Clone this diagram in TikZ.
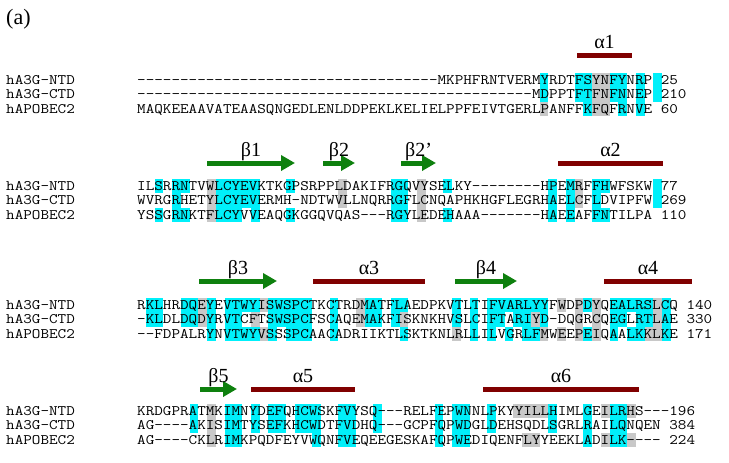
\documentclass[tikz,border=0pt]{standalone}
\usepackage{fontspec}
\setmainfont{Liberation Serif}
\usepackage{graphicx}
\usepackage{tikz}
\usetikzlibrary{arrows.meta}
\usepackage{xcolor}
\definecolor{hlcyan}{HTML}{00F0FA}
\definecolor{hlgray}{HTML}{C8C8C8}
\definecolor{betagreen}{HTML}{0E800E}
\definecolor{alphared}{HTML}{800000}

\newcommand{\seqx}{137}  % inicio de la secuencia
\newcommand{\colw}{8.75} % ancho de columna
\newcommand{\rowh}{14.5} % alto de fila
% celdas coloreadas: #1 y de la fila, #2 color, #3 columnas
\newcommand{\marca}[3]{\foreach \c in {#3}{\fill[#2] ({\seqx+(\c-1)*\colw},{#1-\rowh/2}) rectangle ++(\colw,\rowh);}}
% fila: #1 nombre, #2 y, #3 etiqueta, #4 secuencia
\newcommand{\fila}[4]{\node[seqtxt] (#1l) at (6,{#2+4.4}) {\scalebox{1.1494}[1]{#3}};
	\node[seqtxt] (#1s) at (\seqx,{#2+4.4}) {\scalebox{1.1494}[1]{#4}};}

\begin{document}
\begin{tikzpicture}[x=1pt,y=-1pt,
	seqtxt/.style={anchor=base west,inner sep=0pt,font=\ttfamily\fontsize{14.5}{15}\selectfont},
	sslab/.style={anchor=base,inner sep=0pt,font=\fontsize{20}{22}\selectfont},
	helice/.style={alphared,line width=5pt},
	hebra/.style={betagreen,line width=5pt,-{Triangle[width=15pt,length=14pt]}}]
	\useasboundingbox (0,0) rectangle (729,463);
	\node[anchor=base west,inner sep=0pt,font=\fontsize{22}{24}\selectfont] (panel) at (6,24) {(a)};
	% bloque 1
	\marca{80}{hlcyan}{47,51,52,55,56,58,60}
	\marca{80}{hlgray}{53,54}
	\marca{94.5}{hlcyan}{47,51,52,55,56,58,60}
	\marca{94.5}{hlgray}{53,54}
	\marca{109}{hlcyan}{52,56,58}
	\marca{109}{hlgray}{47,53,54}
	\fila{n1}{80}{hA3G-NTD}{-----------------------------------MKPHFRNTVERMYRDTFSYNFYNRP 25}
	\fila{c1}{94.5}{hA3G-CTD}{----------------------------------------------MDPPTFTFNFNNEP 210}
	\fila{p1}{109}{hAPOBEC2}{MAQKEEAAVATEAASQNGEDLENLDDPEKLKELIELPPFEIVTGERLPANFFKFQFRNVE 60}
	% bloque 2
	\marca{186}{hlcyan}{3,5,6,10,11,12,13,14,18,30,31,36,48,50,53,54,60}
	\marca{186}{hlgray}{9,24,33,51}
	\marca{200.5}{hlcyan}{5,10,11,12,13,14,30,31,48,50,53,60}
	\marca{200.5}{hlgray}{9,24,33,51}
	\marca{215}{hlcyan}{3,5,6,10,11,12,14,18,30,31,36,48,50,53,54}
	\marca{215}{hlgray}{9,33}
	\fila{n2}{186}{hA3G-NTD}{ILSRRNTVWLCYEVKTKGPSRPPLDAKIFRGQVYSELKY--------HPEMRFFHWFSKW 77}
	\fila{c2}{200.5}{hA3G-CTD}{WVRGRHETYLCYEVERMH-NDTWVLLNQRRGFLCNQAPHKHGFLEGRHAELCFLDVIPFW 269}
	\fila{p2}{215}{hAPOBEC2}{YSSGRNKTFLCYVVEAQGKGGQVQAS---RGYLEDEHAAA-------HAEEAFFNTILPA 110}
	% bloque 3
	\marca{305}{hlcyan}{2,3,6,7,9,11,12,13,14,16,17,18,19,20,23,27,28,30,31,37,39,41,42,43,44,45,46,47,52,55,56,57,58,59,61}
	\marca{305}{hlgray}{8,15,26,49,51,53,60}
	\marca{319.5}{hlcyan}{2,3,6,7,9,11,12,16,17,18,19,20,23,27,28,30,37,39,41,42,44,45,47,55,56,58,59,61}
	\marca{319.5}{hlgray}{8,14,26,31,46,51,53,60}
	\marca{334}{hlcyan}{9,11,12,13,14,16,18,19,20,23,31,39,41,43,45,46,52,55,57,58,61}
	\marca{334}{hlgray}{15,37,47,49,51,53,59,60}
	\fila{n3}{305}{hA3G-NTD}{RKLHRDQEYEVTWYISWSPCTKCTRDMATFLAEDPKVTLTIFVARLYYFWDPDYQEALRSLCQ 140}
	\fila{c3}{319.5}{hA3G-CTD}{-KLDLDQDYRVTCFTSWSPCFSCAQEMAKFISKNKHVSLCIFTARIYD-DQGRCQEGLRTLAE 330}
	\fila{p3}{334}{hAPOBEC2}{--FDPALRYNVTWYVSSSPCAACADRIIKTLSKTKNLRLLILVGRLFMWEEPEIQAALKKLKE 171}
	% bloque 4
	\marca{411}{hlcyan}{7,11,12,14,16,17,19,20,21,24,25,28,35,37,38,41,48,52,55,56}
	\marca{411}{hlgray}{9,44,45,46,47,54,57}
	\marca{425.5}{hlcyan}{7,11,12,14,16,17,19,20,21,24,25,28,35,37,38,41,48,52,55,56}
	\marca{425.5}{hlgray}{9}
	\marca{440}{hlcyan}{11,12,21,24,25,35,37,38,52,55,56}
	\marca{440}{hlgray}{9,45,46,54,57}
	\fila{n4}{411}{hA3G-NTD}{KRDGPRATMKIMNYDEFQHCWSKFVYSQ---RELFEPWNNLPKYYILLHIMLGEILRHS---196}
	\fila{c4}{425.5}{hA3G-CTD}{AG----AKISIMTYSEFKHCWDTFVDHQ---GCPFQPWDGLDEHSQDLSGRLRAILQNQEN 384}
	\fila{p4}{440}{hAPOBEC2}{AG----CKLRIMKPQDFEYVWQNFVEQEEGESKAFQPWEDIQENFLYYEEKLADILK---- 224}
	% helices
	\foreach \xa/\xb/\y/\nom/\lab in {577/632/55/ha1/α1, 558/663/163/ha2/α2,
		313/425/281/ha3/α3, 604/692/281/ha4/α4, 251/355/389/ha5/α5, 483/639/389/ha6/α6}{
		\draw[helice] (\xa,\y) -- (\xb,\y);
		\node[sslab] (\nom) at ({(\xa+\xb)/2},{\y-7}) {\lab};
	}
	% hebras
	\foreach \xa/\xb/\y/\nom/\lab in {207/295/163/hb1/β1, 323/355/163/hb2/β2, 401/436/163/hb2p/β2',
		199/277/281/hb3/β3, 455/517/281/hb4/β4, 200/237/389/hb5/β5}{
		\draw[hebra] (\xa,\y) -- (\xb,\y);
		\node[sslab] (\nom) at ({(\xa+\xb)/2},{\y-7}) {\lab};
	}
\end{tikzpicture}
\end{document}
